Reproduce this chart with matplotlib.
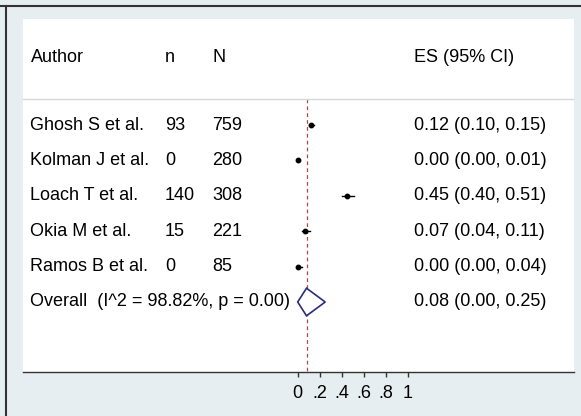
import matplotlib
matplotlib.use("Agg")
import matplotlib.pyplot as plt
from matplotlib.lines import Line2D
from matplotlib.patches import Polygon

plt.rcParams['font.family'] = ['Liberation Sans', 'DejaVu Sans']

authors = ["Ghosh S et al.", "Kolman J et al.", "Loach T et al.", "Okia M et al.", "Ramos B et al."]
n_vals = [93, 0, 140, 15, 0]
N_vals = [759, 280, 308, 221, 85]
es = [0.12, 0.00, 0.45, 0.07, 0.00]
lo = [0.10, 0.00, 0.40, 0.04, 0.00]
hi = [0.15, 0.01, 0.51, 0.11, 0.04]
overall_es, overall_lo, overall_hi = 0.08, 0.00, 0.25
overall_label = "Overall  (I^2 = 98.82%, p = 0.00)"
xticks = [0, 0.2, 0.4, 0.6, 0.8, 1.0]
xticklabels = ["0", ".2", ".4", ".6", ".8", "1"]

W, H = 581, 416
fig = plt.figure(figsize=(W / 100, H / 100), dpi=100)
fig.patch.set_facecolor("#e7eef1")

# white plot region
L, R, T, B = 23, 574, 19, 372
ax = fig.add_axes([L / W, (H - B) / H, (R - L) / W, (B - T) / H])
ax.set_facecolor("white")

x0px, pxu = 297.7, 110.0
y0px, row = 125, 35.4
ax.set_xlim((L - x0px) / pxu, (R - x0px) / pxu)
ax.set_ylim((B - y0px) / row, (T - y0px) / row)

fs = 13
col_author = (30.5 - x0px) / pxu
col_n = (165 - x0px) / pxu
col_N = (212 - x0px) / pxu
col_es = (414 - x0px) / pxu
y_header = (57 - y0px) / row
y_sep = (99 - y0px) / row

ax.text(col_author, y_header, "Author", fontsize=fs, va="center", ha="left")
ax.text(col_n, y_header, "n", fontsize=fs, va="center", ha="left")
ax.text(col_N, y_header, "N", fontsize=fs, va="center", ha="left")
ax.text(col_es, y_header, "ES (95% CI)", fontsize=fs, va="center", ha="left")

ax.axhline(y_sep, color="#d4d8da", lw=1)

for i, a in enumerate(authors):
    ax.text(col_author, i, a, fontsize=fs, va="center", ha="left")
    ax.text(col_n, i, str(n_vals[i]), fontsize=fs, va="center", ha="left")
    ax.text(col_N, i, str(N_vals[i]), fontsize=fs, va="center", ha="left")
    ax.text(col_es, i, f"{es[i]:.2f} ({lo[i]:.2f}, {hi[i]:.2f})", fontsize=fs, va="center", ha="left")
    ax.plot([lo[i], hi[i]], [i, i], color="black", lw=1)
    ax.plot(es[i], i, "o", color="black", ms=3.2)

k = len(authors)
ax.text(col_author, k, overall_label, fontsize=fs, va="center", ha="left")
ax.text(col_es, k, f"{overall_es:.2f} ({overall_lo:.2f}, {overall_hi:.2f})", fontsize=fs, va="center", ha="left")
dh = 0.39
diamond = Polygon([[overall_lo, k], [overall_es, k - dh], [overall_hi, k], [overall_es, k + dh]],
                  closed=True, facecolor="white", edgecolor="#2b2d7c", lw=1.2, zorder=3)
ax.add_patch(diamond)

ax.plot([overall_es, overall_es], [y_sep, (B - y0px) / row], color="#b04848", lw=0.9,
        ls=(0, (3, 2.5)), zorder=1)

for s in ["top", "right", "left"]:
    ax.spines[s].set_visible(False)
ax.spines["bottom"].set_color("#333333")
ax.spines["bottom"].set_linewidth(1)
ax.set_yticks([])
ax.set_xticks(xticks)
ax.set_xticklabels(xticklabels, fontsize=fs)
ax.tick_params(axis="x", length=3.6, width=1, color="#333333", pad=5.5)

# outer frame lines (top and left)
fig.add_artist(Line2D([0, 1], [1 - 5.5 / H, 1 - 5.5 / H], transform=fig.transFigure, color="#333333", lw=1.5))
fig.add_artist(Line2D([5.5 / W, 5.5 / W], [0, 1 - 5.5 / H], transform=fig.transFigure, color="#333333", lw=1.5))

fig.savefig("out.png", dpi=100, facecolor=fig.get_facecolor())
